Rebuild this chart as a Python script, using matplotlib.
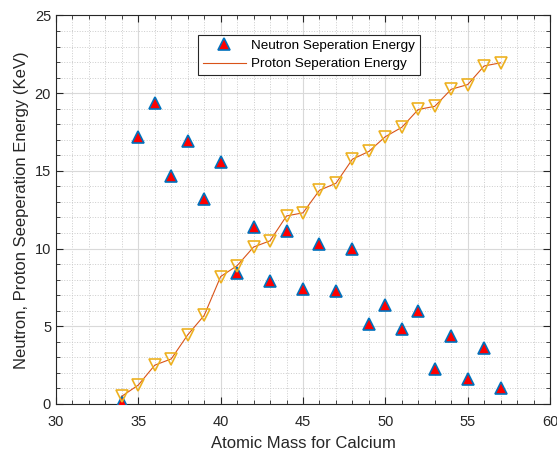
import numpy as np
import matplotlib.pyplot as plt
from matplotlib.ticker import MultipleLocator

plt.rcParams['font.family'] = ['Liberation Sans', 'DejaVu Sans']

mass = [34, 35, 36, 37, 38, 39, 40, 41, 42, 43, 44, 45,
        46, 47, 48, 49, 50, 51, 52, 53, 54, 55, 56, 57]
neutron = [0.1, 17.2, 19.35, 14.7, 16.95, 13.2, 15.6, 8.4, 11.4, 7.9, 11.1, 7.4,
           10.3, 7.3, 9.95, 5.15, 6.4, 4.8, 6.0, 2.25, 4.4, 1.6, 3.6, 1.0]
proton = [0.5, 1.22, 2.5, 2.9, 4.45, 5.7, 8.2, 8.9, 10.1, 10.5, 12.1, 12.3,
          13.75, 14.2, 15.75, 16.25, 17.2, 17.8, 18.95, 19.15, 20.25, 20.55, 21.75, 21.95]

blue = (0, 0.447, 0.741)
orange = (0.85, 0.325, 0.098)
yellow = (0.929, 0.694, 0.125)
dark = (0.15, 0.15, 0.15)

fig = plt.figure(figsize=(5.57, 4.55), dpi=100)
ax = fig.add_axes([0.1005, 0.1121, 0.887, 0.854])

ax.plot(mass, neutron, linestyle='none', marker='^', markersize=8,
        markerfacecolor='red', markeredgecolor=blue, markeredgewidth=1.2,
        label='Neutron Seperation Energy', zorder=3)
ax.plot(mass, proton, color=orange, linewidth=0.8, label='Proton Seperation Energy',
        zorder=3)
ax.plot(mass, proton, linestyle='none', marker='v', markersize=8,
        markerfacecolor='none', markeredgecolor=yellow, markeredgewidth=1.2, zorder=3)

ax.set_xlim(30, 60)
ax.set_ylim(0, 25)
ax.xaxis.set_major_locator(MultipleLocator(5))
ax.yaxis.set_major_locator(MultipleLocator(5))
ax.xaxis.set_minor_locator(MultipleLocator(1))
ax.yaxis.set_minor_locator(MultipleLocator(1))
ax.grid(which='major', color=(0.85, 0.85, 0.85), linewidth=0.8)
ax.grid(which='minor', color=(0.8, 0.8, 0.8), linestyle=':', linewidth=0.7)
ax.set_axisbelow(True)
ax.tick_params(which='both', direction='in', top=True, right=True, colors=dark,
               labelsize=10.5)
ax.tick_params(which='major', length=5)
ax.tick_params(which='minor', length=3)
ax.tick_params(axis='x', which='major', pad=8)
for s in ax.spines.values():
    s.set_color(dark)
    s.set_linewidth(0.8)

ax.set_xlabel('Atomic Mass for Calcium', fontsize=12, color=dark, labelpad=5)
ax.set_ylabel('Neutron, Proton Seeperation Energy (KeV)', fontsize=12, color=dark)

leg = ax.legend(loc='upper left', bbox_to_anchor=(0.2874, 0.950), borderaxespad=0,
                fontsize=9.7, fancybox=False, framealpha=1, edgecolor=dark,
                handlelength=3.2, handletextpad=0.4, labelspacing=0.45,
                borderpad=0.35)
leg.get_frame().set_linewidth(0.8)

fig.savefig('out.png', dpi=100)
